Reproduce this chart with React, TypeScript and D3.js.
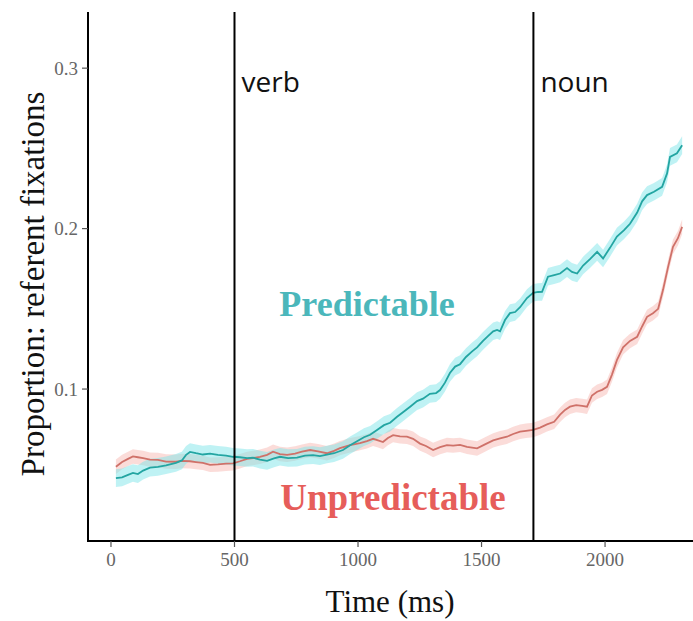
import React from "react";
import * as d3 from "d3";

const predTimes = [20,45,69,89,109,130,158,190,223,263,287,304,320,344,372,401,433,466,494,522,551,575,603,632,660,684,717,753,785,818,846,874,903,939,968,996,1024,1049,1077,1105,1130,1158,1182,1211,1239,1263,1291,1316,1332,1352,1372,1393,1413,1437,1462,1482,1506,1526,1547,1563,1575,1595,1615,1636,1656,1684,1709,1729,1745,1769,1794,1818,1846,1866,1887,1911,1939,1968,1992,2020,2048,2077,2101,2130,2150,2170,2198,2231,2251,2263,2291,2312];
const predValues = [0.0445,0.045,0.0465,0.0477,0.047,0.0492,0.051,0.0515,0.0525,0.054,0.0555,0.059,0.0608,0.06,0.0592,0.0597,0.059,0.0585,0.0578,0.0575,0.057,0.0572,0.056,0.0552,0.0568,0.0578,0.057,0.0572,0.0585,0.0588,0.0582,0.0592,0.06,0.062,0.065,0.0675,0.07,0.0715,0.0745,0.0775,0.079,0.0827,0.0855,0.089,0.0925,0.094,0.097,0.0975,0.0994,0.104,0.11,0.114,0.1155,0.12,0.1235,0.126,0.13,0.133,0.136,0.1368,0.136,0.143,0.1473,0.148,0.151,0.1567,0.16,0.1605,0.1606,0.17,0.171,0.172,0.1754,0.173,0.172,0.177,0.181,0.1855,0.1814,0.188,0.195,0.199,0.203,0.21,0.217,0.2209,0.223,0.226,0.2344,0.2447,0.2469,0.252];

const unpredTimes = [20,45,69,89,109,130,158,190,223,263,287,320,344,372,401,433,466,494,522,551,575,603,632,656,684,713,745,773,806,838,874,903,927,968,1008,1036,1061,1081,1101,1121,1142,1170,1198,1223,1251,1275,1304,1332,1360,1385,1413,1441,1482,1514,1547,1575,1603,1628,1656,1680,1709,1737,1765,1794,1818,1838,1858,1883,1907,1927,1947,1968,1988,2008,2028,2048,2073,2101,2130,2150,2170,2194,2215,2235,2255,2275,2295,2312];
const unpredValues = [0.0516,0.0545,0.0565,0.058,0.0575,0.057,0.056,0.0558,0.0548,0.0547,0.0552,0.055,0.0545,0.054,0.0528,0.053,0.0535,0.0537,0.055,0.0565,0.057,0.0578,0.059,0.061,0.0595,0.059,0.0598,0.061,0.062,0.0612,0.06,0.0615,0.0632,0.065,0.0663,0.0675,0.069,0.068,0.067,0.0695,0.0713,0.0705,0.0703,0.069,0.066,0.0645,0.062,0.0638,0.0651,0.0648,0.0652,0.064,0.063,0.0655,0.068,0.0693,0.0703,0.072,0.0734,0.074,0.0745,0.076,0.078,0.0796,0.084,0.087,0.089,0.09,0.0895,0.089,0.096,0.0983,0.0995,0.1014,0.109,0.118,0.126,0.13,0.1326,0.139,0.145,0.1473,0.15,0.162,0.176,0.1887,0.194,0.2011];

const predSE = 0.0055;
const unpredSE = 0.0045;

const xTicks = [0, 500, 1000, 1500, 2000];
const yTicks = [0.1, 0.2, 0.3];
const eventTimes = [500, 1710];
const eventLabels = ["verb", "noun"];

const W = 693, H = 621;
const left = 88, right = 693, top = 12, bottom = 541;

export default function App() {
  const x = d3.scaleLinear().domain([-93, 2356]).range([left, right]);
  const y = d3.scaleLinear().domain([0.0053, 0.335]).range([bottom, top]);

  const pred = predTimes.map((t, i) => ({ t, v: predValues[i] }));
  const unpred = unpredTimes.map((t, i) => ({ t, v: unpredValues[i] }));

  const line = d3.line<{ t: number; v: number }>().x(d => x(d.t)).y(d => y(d.v));
  const ribbon = (se: number) =>
    d3.area<{ t: number; v: number }>().x(d => x(d.t)).y0(d => y(d.v - se)).y1(d => y(d.v + se));

  const serif = "'Liberation Serif', 'Times New Roman', serif";

  return (
    <svg width={W} height={H} style={{ position: "absolute", left: 0, top: 0, background: "#fff" }}>
      <path d={ribbon(unpredSE)(unpred) || ""} fill="#f7b9b4" opacity={0.5} />
      <path d={ribbon(predSE)(pred) || ""} fill="#7fe6ea" opacity={0.5} />
      <path d={line(unpred) || ""} fill="none" stroke="#cf7169" strokeWidth={1.8} />
      <path d={line(pred) || ""} fill="none" stroke="#23a5a2" strokeWidth={1.8} />

      {eventTimes.map((t, i) => (
        <g key={t}>
          <line x1={x(t)} x2={x(t)} y1={top} y2={bottom} stroke="#000" strokeWidth={2} />
          <text x={x(t) + 7} y={92} fontFamily="'Open Sans', sans-serif" fontSize={28} fill="#111">
            {eventLabels[i]}
          </text>
        </g>
      ))}

      <line x1={left} x2={left} y1={top} y2={bottom + 1} stroke="#000" strokeWidth={2} />
      <line x1={left - 1} x2={right} y1={bottom} y2={bottom} stroke="#000" strokeWidth={2} />

      {yTicks.map(v => (
        <g key={v}>
          <line x1={left - 6} x2={left} y1={y(v)} y2={y(v)} stroke="#555" strokeWidth={1.2} />
          <text x={left - 10} y={y(v)} dy="0.35em" textAnchor="end" fontFamily={serif} fontSize={19} fill="#666">
            {d3.format(".1f")(v)}
          </text>
        </g>
      ))}
      {xTicks.map(t => (
        <g key={t}>
          <line x1={x(t)} x2={x(t)} y1={bottom} y2={bottom + 6} stroke="#555" strokeWidth={1.2} />
          <text x={x(t)} y={566} textAnchor="middle" fontFamily={serif} fontSize={19} fill="#666">
            {t}
          </text>
        </g>
      ))}

      <text x={390} y={612} textAnchor="middle" fontFamily={serif} fontSize={31} fill="#111">
        Time (ms)
      </text>
      <text transform="translate(44,284) rotate(-90)" textAnchor="middle" fontFamily={serif} fontSize={33} fill="#111">
        Proportion: referent fixations
      </text>

      <text x={367} y={316} textAnchor="middle" fontFamily={serif} fontWeight="bold" fontSize={36} fill="#4bb7bb">
        Predictable
      </text>
      <text x={393} y={510} textAnchor="middle" fontFamily={serif} fontWeight="bold" fontSize={37} fill="#e65d5a">
        Unpredictable
      </text>
    </svg>
  );
}
